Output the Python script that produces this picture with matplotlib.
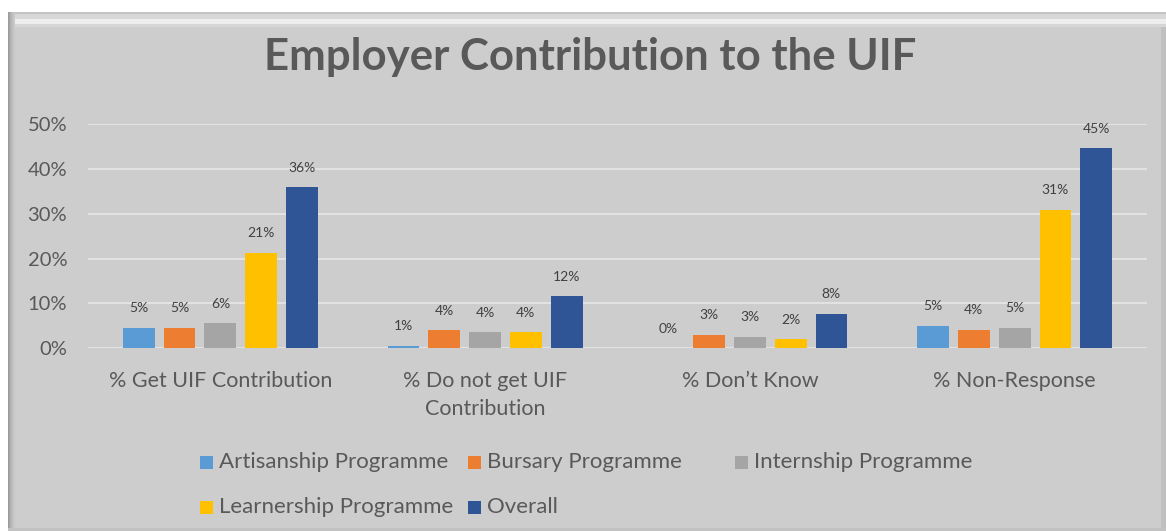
import numpy as np
import matplotlib.pyplot as plt
from matplotlib.patches import Rectangle

plt.rcParams['font.family'] = ['Lato', 'DejaVu Sans']

categories = ["% Get UIF Contribution", "% Do not get UIF\nContribution",
              "% Don\u2019t Know", "% Non-Response"]
series = ["Artisanship Programme", "Bursary Programme", "Internship Programme",
          "Learnership Programme", "Overall"]
artisanship = [4.6, 0.55, 0.0, 5.0]
bursary = [4.6, 4.0, 3.0, 4.1]
internship = [5.6, 3.6, 2.6, 4.6]
learnership = [21.3, 3.6, 2.0, 30.9]
overall = [35.9, 11.6, 7.7, 44.6]
colors = ["#5b9bd5", "#ed7d31", "#a5a5a5", "#ffc000", "#2f5597"]

values = [artisanship, bursary, internship, learnership, overall]
bg = "#cdcdcd"
txt = "#595959"

fig = plt.figure(figsize=(11.66, 5.31), dpi=100)
fig.patch.set_facecolor("white")
W, H = 1166, 531

def px(x0, y0, w, h, z=-10, **kw):
    # rectangle in pixel coordinates measured from the top-left corner
    fig.patches.append(Rectangle((x0 / W, 1 - (y0 + h) / H), w / W, h / H,
                                 transform=fig.transFigure, linewidth=0,
                                 zorder=z, **kw))

# bevelled frame around the chart
px(8, 12, 1158, 519, facecolor=bg)
px(8, 12, 1158, 2, facecolor="#c4c4c4")
px(8, 14, 1158, 5, facecolor="#d8d8d8")
px(8, 19, 1158, 5, facecolor="#ededed")
px(8, 24, 1158, 3, facecolor="#d6d6d6")
for i, c in enumerate(["#9a9a9a", "#a6a6a6", "#b0b0b0", "#b8b8b8", "#bfbfbf", "#c5c5c5", "#c9c9c9"]):
    px(8 + i, 12, 1, 519, facecolor=c)
px(1161, 27, 5, 504, facecolor="#c0c0c0")
px(8, 528, 1158, 3, facecolor="#c2c2c2")

ax = fig.add_axes([88 / W, 1 - 348.3 / H, (1147 - 88) / W, (348.3 - 124.3) / H])
ax.set_facecolor("none")
x = np.arange(len(categories))
width = 0.12
step = 0.154
for i, (name, vals, col) in enumerate(zip(series, values, colors)):
    pos = x + (i - 2) * step
    bars = ax.bar(pos, vals, width, color=col, label=name, zorder=3)
    for b, v in zip(bars, vals):
        ax.text(b.get_x() + b.get_width() / 2, v + 3.0, f"{v:.0f}%",
                ha="center", va="bottom", fontsize=10, color="#404040")

ax.set_xlim(-0.5, 3.5)
ax.set_ylim(0, 50)
ax.set_yticks(np.arange(0, 51, 10))
ax.set_yticklabels([f"{t}%" for t in range(0, 51, 10)], fontsize=14.5, color=txt)
ax.set_xticks(x)
ax.set_xticklabels(categories, fontsize=15.5, color=txt, linespacing=1.5)
ax.tick_params(length=0, axis="y", pad=15)
ax.tick_params(length=0, axis="x", pad=16)
ax.grid(axis="y", color="#e2e2e2", linewidth=1.5, zorder=0)
for s in ax.spines.values():
    s.set_visible(False)
ax.axhline(0, color="#e2e2e2", linewidth=1.5, zorder=2)

fig.text(590 / W, 1 - 57 / H, "Employer Contribution to the UIF", ha="center", va="center",
         fontsize=31.5, fontweight="bold", color=txt)

# legend laid out in fixed-width columns
cols_x = [200, 468, 735]
rows_y = [462, 507]
for i, (name, col) in enumerate(zip(series, colors)):
    cx = cols_x[i % 3]
    cy = rows_y[i // 3]
    px(cx, cy - 6.5, 13, 13, z=-5, facecolor=col)
    fig.text((cx + 19) / W, 1 - cy / H, name, ha="left", va="center",
             fontsize=16, color=txt)

fig.savefig("out.png", dpi=100, facecolor="white")
